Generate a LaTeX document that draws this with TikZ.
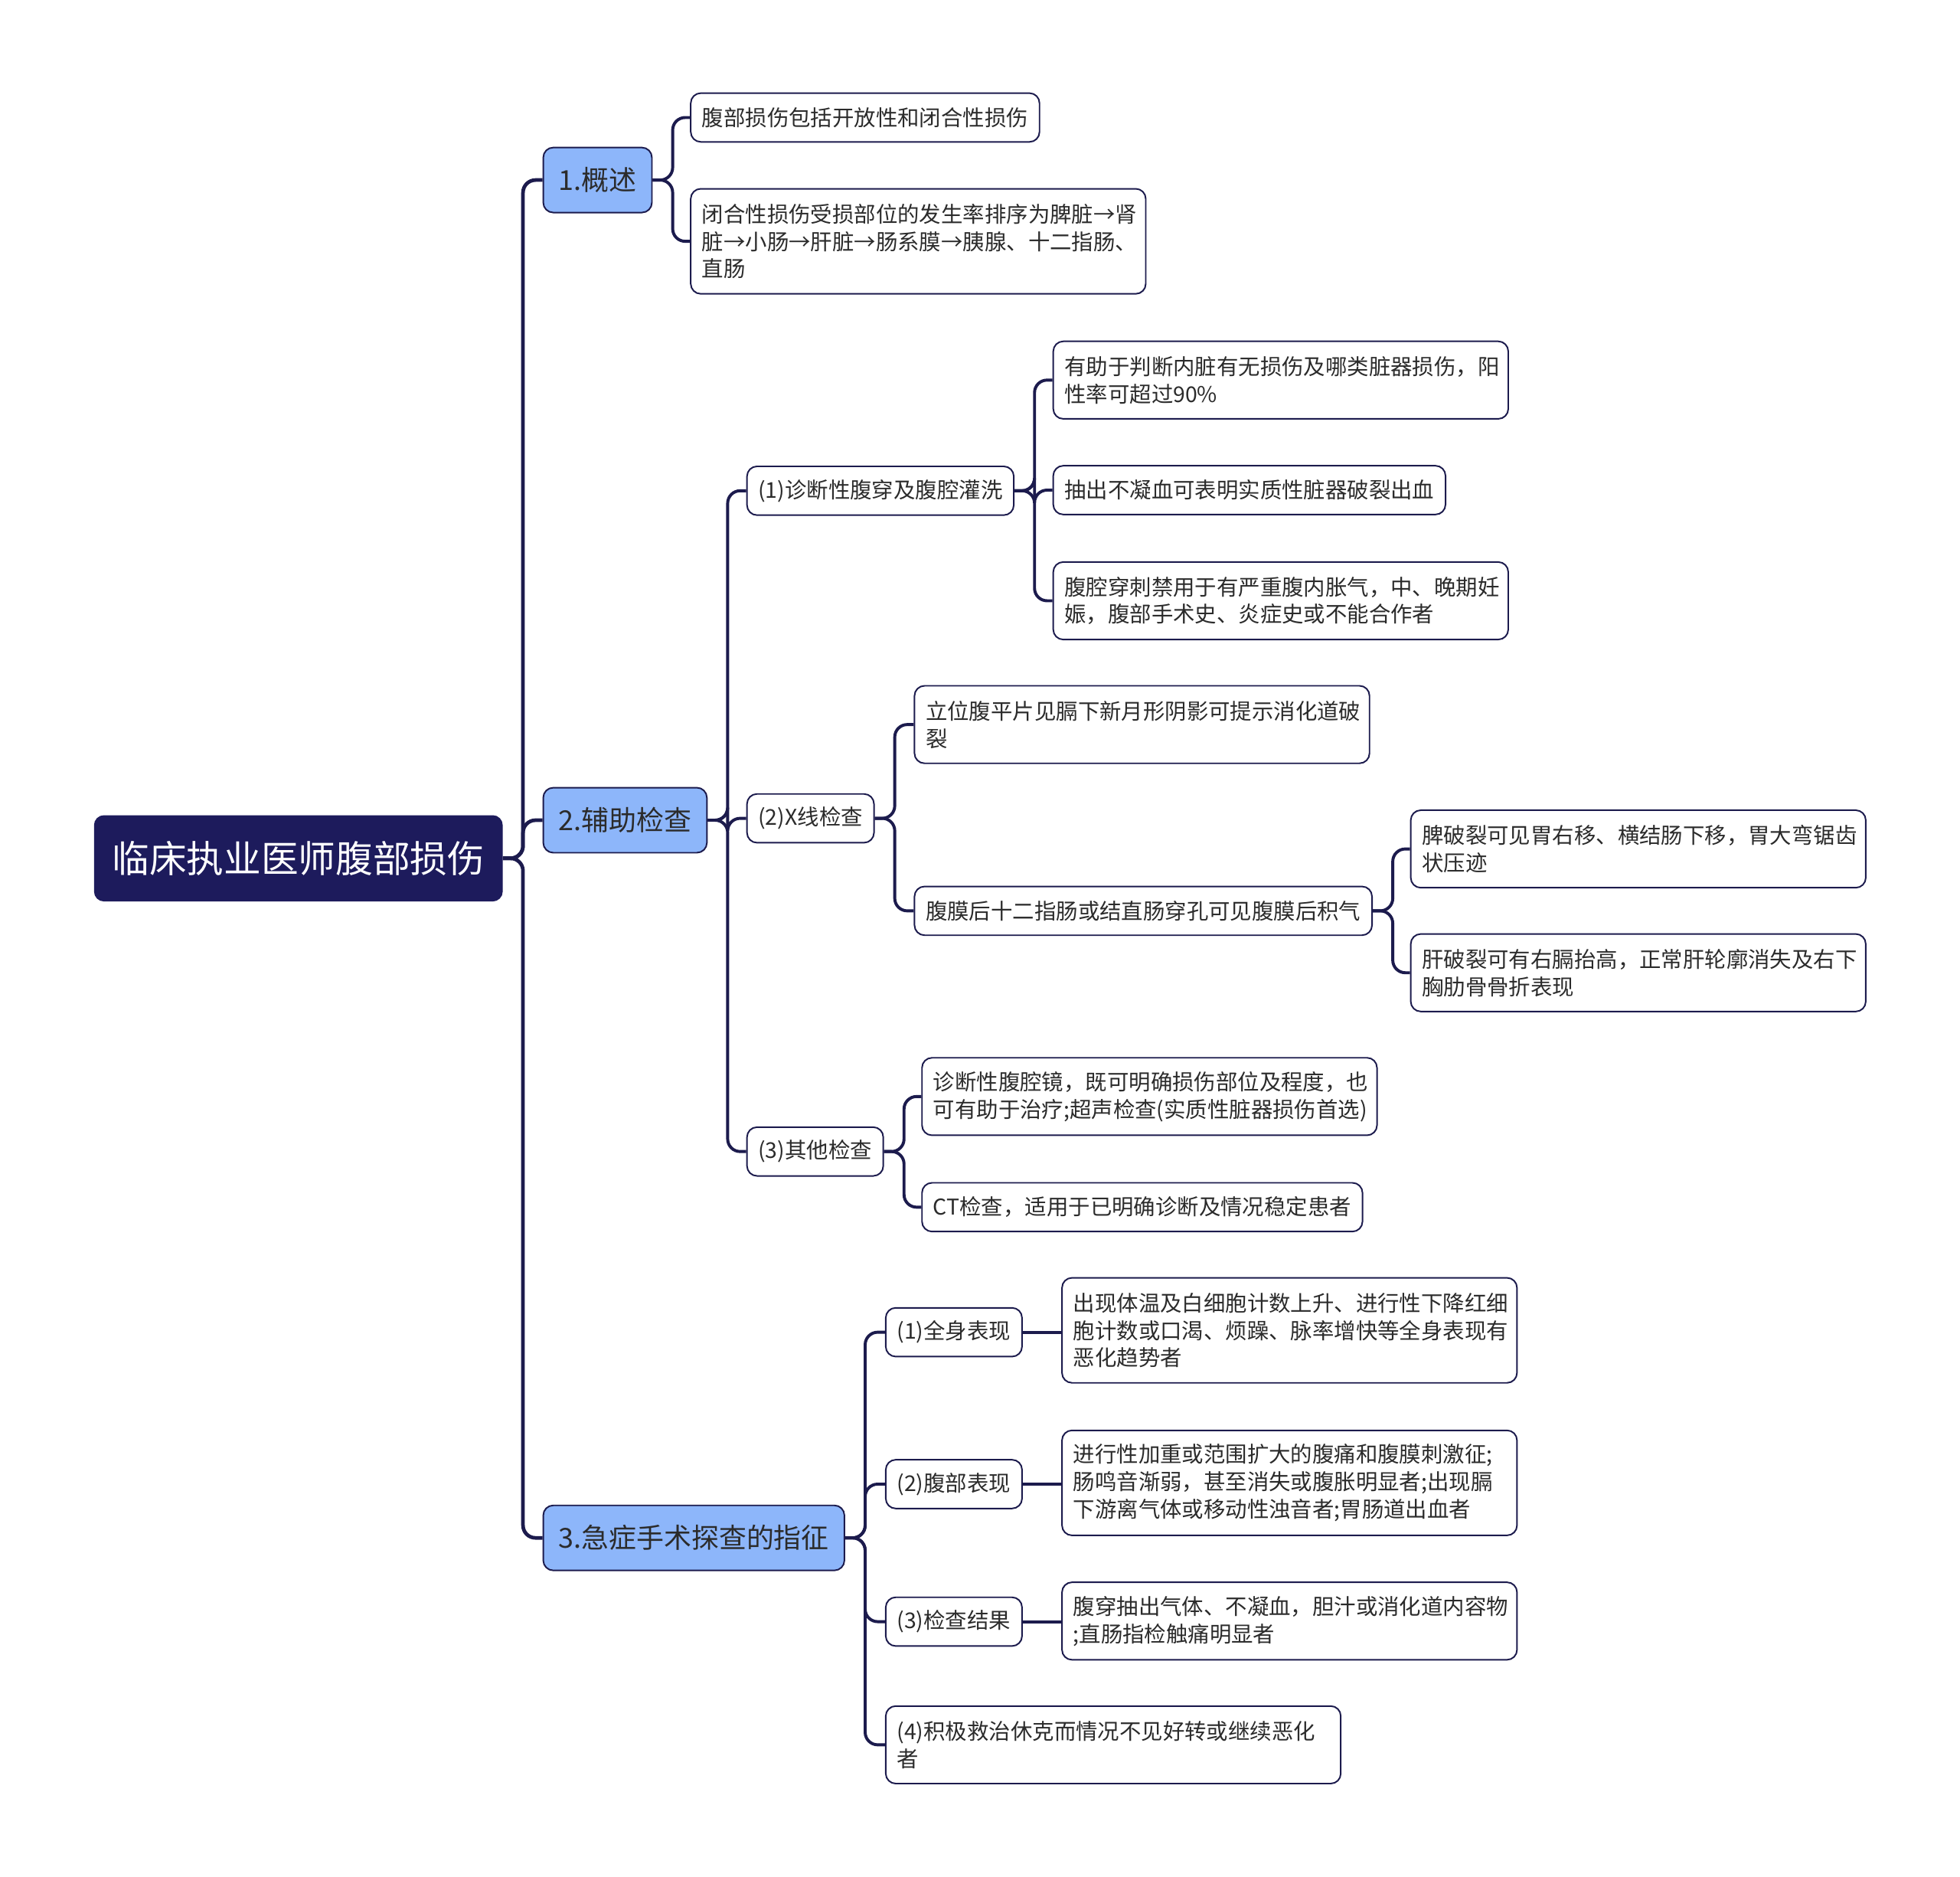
\documentclass[tikz,border=0pt]{standalone}
\usepackage{fontspec}
\newfontfamily\cjk{Noto Sans CJK SC}
\definecolor{navy}{HTML}{1C1B4D}
\definecolor{rootfill}{HTML}{1D1B5C}
\definecolor{lblue}{HTML}{8DB6FA}
\definecolor{txt}{HTML}{2B2B2B}
\begin{document}
\begin{tikzpicture}[x=1pt,y=-1pt,
  base/.style={font=\cjk\fontsize{17.4}{22}\selectfont, text=txt, anchor=west,
    rounded corners=8pt, draw=navy, line width=1.2pt, fill=white,
    inner xsep=9pt, inner ysep=0pt, minimum height=39pt},
  multi/.style={base, text width=346pt, align=left},
  lvone/.style={font=\cjk\fontsize{22}{26}\selectfont, fill=lblue, draw=navy,
    line width=1.2pt, rounded corners=8pt, minimum height=52pt, inner xsep=12.3pt,
    inner ysep=0pt, anchor=west, text=txt},
  rootbox/.style={font=\cjk\fontsize{29.8}{36}\selectfont, fill=rootfill, text=white,
    rounded corners=8pt, minimum width=327pt, minimum height=69pt, anchor=west},
  conn/.style={draw=navy, line width=2.4pt, rounded corners=10pt},
  rootconn/.style={conn, line width=2.9pt}]
\useasboundingbox[fill=white] (0,0) rectangle (1568,1501.2);

% root and level 1
\node[rootbox] (root) at (75,686.5) {临床执业医师腹部损伤};
\node[lvone] (La) at (434,144) {1.概述};
\node[lvone] (Lb) at (434,656) {2.辅助检查};
\node[lvone] (Lc) at (434,1230) {3.急症手术探查的指征};

% 1.
\node[base] (A1) at (552,94) {腹部损伤包括开放性和闭合性损伤};
\node[multi, minimum height=84pt] (A2) at (552,193) {闭合性损伤受损部位的发生率排序为脾脏→肾\\脏→小肠→肝脏→肠系膜→胰腺、十二指肠、\\直肠};

% 2.
\node[base] (B1) at (597,392.5) {(1)诊断性腹穿及腹腔灌洗};
\node[base] (B2) at (597,654.5) {(2)X线检查};
\node[base] (B3) at (597,921) {(3)其他检查};

\node[multi, minimum height=62pt] (B1a) at (842,304) {有助于判断内脏有无损伤及哪类脏器损伤，阳\\性率可超过90\%};
\node[base] (B1b) at (842,392) {抽出不凝血可表明实质性脏器破裂出血};
\node[multi, minimum height=62pt] (B1c) at (842,480.5) {腹腔穿刺禁用于有严重腹内胀气，中、晚期妊\\娠，腹部手术史、炎症史或不能合作者};

\node[multi, minimum height=62pt] (B2a) at (731,579.5) {立位腹平片见膈下新月形阴影可提示消化道破\\裂};
\node[base] (B2b) at (731,728.5) {腹膜后十二指肠或结直肠穿孔可见腹膜后积气};
\node[multi, minimum height=62pt] (B2b1) at (1128,679) {脾破裂可见胃右移、横结肠下移，胃大弯锯齿\\状压迹};
\node[multi, minimum height=62pt] (B2b2) at (1128,778) {肝破裂可有右膈抬高，正常肝轮廓消失及右下\\胸肋骨骨折表现};

\node[multi, minimum height=62pt] (B3a) at (737,877) {诊断性腹腔镜，既可明确损伤部位及程度，也\\可有助于治疗;超声检查(实质性脏器损伤首选)};
\node[base] (B3b) at (737,965.5) {CT检查，适用于已明确诊断及情况稳定患者};

% 3.
\node[base] (C1) at (708,1065.5) {(1)全身表现};
\node[base] (C2) at (708,1187) {(2)腹部表现};
\node[base] (C3) at (708,1297) {(3)检查结果};
\node[multi, minimum height=62pt] (C4) at (708,1395.5) {(4)积极救治休克而情况不见好转或继续恶化\\者};

\node[multi, minimum height=84pt] (C1c) at (849,1064) {出现体温及白细胞计数上升、进行性下降红细\\胞计数或口渴、烦躁、脉率增快等全身表现有\\恶化趋势者};
\node[multi, minimum height=84pt] (C2c) at (849,1186) {进行性加重或范围扩大的腹痛和腹膜刺激征;\\肠鸣音渐弱，甚至消失或腹胀明显者;出现膈\\下游离气体或移动性浊音者;胃肠道出血者};
\node[multi, minimum height=62pt] (C3c) at (849,1296.5) {腹穿抽出气体、不凝血，胆汁或消化道内容物\\;直肠指检触痛明显者};

% connectors
\foreach \c in {La, Lb, Lc}
  \draw[rootconn] (root.east) -- ++(16,0) |- (\c.west);
\foreach \p/\c in {La/A1, La/A2,
                   Lb/B1, Lb/B2, Lb/B3,
                   B1/B1a, B1/B1b, B1/B1c,
                   B2/B2a, B2/B2b,
                   B2b/B2b1, B2b/B2b2,
                   B3/B3a, B3/B3b,
                   Lc/C1, Lc/C2, Lc/C3, Lc/C4}
  \draw[conn] (\p.east) -- ++(16,0) |- (\c.west);
\foreach \p/\c in {C1/C1c, C2/C2c, C3/C3c}
  \draw[conn] (\p.east) -- (\p.east -| \c.west);
\end{tikzpicture}
\end{document}
